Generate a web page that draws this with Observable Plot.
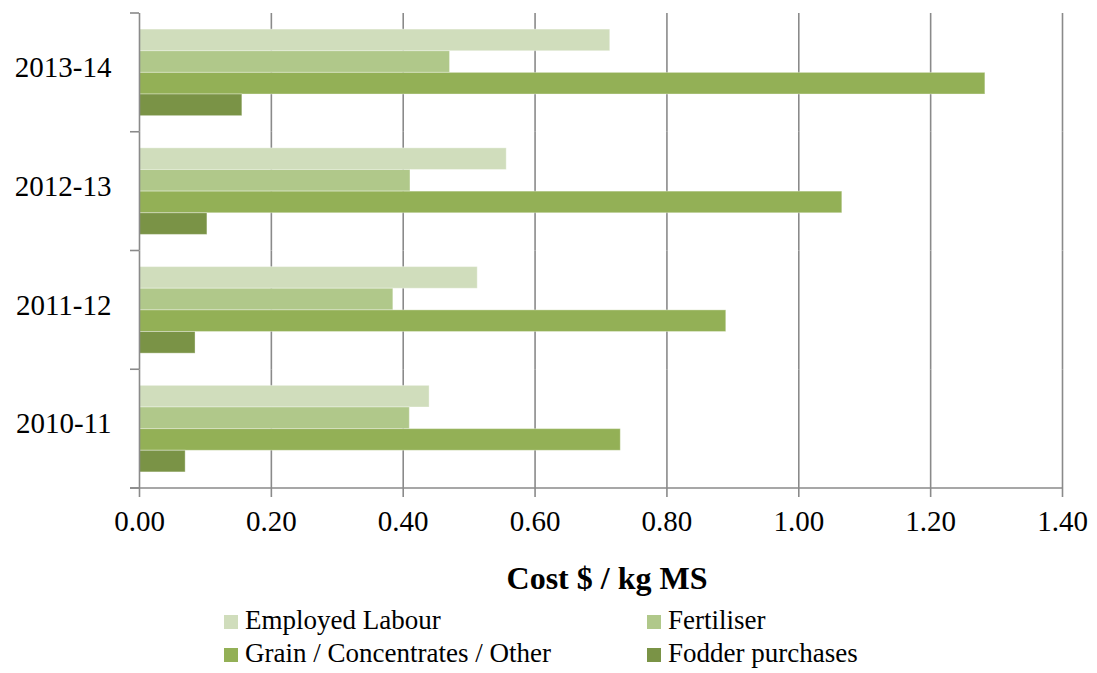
<!DOCTYPE html>
<html>
<head>
<meta charset="utf-8">
<script src="https://cdn.jsdelivr.net/npm/d3@7"></script>
<script src="https://cdn.jsdelivr.net/npm/@observablehq/plot@0.6"></script>
<style>
  html, body { margin: 0; padding: 0; background: #fff; }
  #wrap { position: relative; width: 1097px; height: 673px; font-family: "Liberation Serif", serif; color: #000; }
  #chart { position: absolute; left: 0; top: 0; }
  #title { position: absolute; left: 0; width: 1097px; top: 559px; text-align: center; font-weight: bold; font-size: 32px; line-height: 38px; padding-left: 117px; box-sizing: border-box;}
  .leg { position: absolute; font-size: 27px; line-height: 30px; white-space: nowrap; }
  .sw { position: absolute; width: 14px; height: 14px; }
  [aria-label="x-axis tick"] path { stroke: #8a8a8a; stroke-width: 1.6; }
</style>
</head>
<body>
<div id="wrap">
  <div id="chart"></div>
  <div id="title">Cost $ / kg MS</div>
  <div id="legend"></div>
</div>
<script>
const years = ["2010-11", "2011-12", "2012-13", "2013-14"];
const seriesNames = ["Employed Labour", "Fertiliser", "Grain / Concentrates / Other", "Fodder purchases"];
const labour     = [0.440, 0.513, 0.557, 0.714];
const fertiliser = [0.410, 0.385, 0.411, 0.471];
const grain      = [0.730, 0.890, 1.066, 1.283];
const fodder     = [0.070, 0.085, 0.103, 0.156];
const colors = ["#d0ddbc", "#b0c88a", "#93b056", "#7a9346"];
const xTicks = [0, 0.2, 0.4, 0.6, 0.8, 1.0, 1.2, 1.4];

const seriesValues = [labour, fertiliser, grain, fodder];
const data = [];
years.forEach((yr, i) => {
  seriesNames.forEach((s, j) => {
    data.push({year: yr, series: s, value: seriesValues[j][i]});
  });
});

const W = 1097, H = 548;
const mL = 139, mR = 35, mT = 13, mB = H - 488;

const chart = Plot.plot({
  width: W,
  height: H,
  marginLeft: mL,
  marginRight: mR,
  marginTop: mT,
  marginBottom: mB,
  style: {fontFamily: "Liberation Serif", fontSize: "29px", color: "#000", background: "#fff"},
  x: {domain: [0, 1.4], ticks: xTicks, tickFormat: d3.format(".2f"), tickSize: 9, tickPadding: 13, label: null},
  y: {domain: seriesNames, axis: null, paddingInner: 0, paddingOuter: 0.744, round: false},
  fy: {domain: years.slice().reverse(), padding: 0, round: false, label: null, tickSize: 0, tickPadding: 28, axis: "left"},
  color: {domain: seriesNames, range: colors},
  marks: [
    Plot.ruleX(xTicks.filter(d => d > 0), {stroke: "#8a8a8a", strokeWidth: 1.6}),
    Plot.barX(data, {x: "value", y: "series", fy: "year", fill: "series", stroke: "#ffffff", strokeOpacity: 0.35, strokeWidth: 1}),
    Plot.ruleX([0], {stroke: "#8a8a8a", strokeWidth: 1.6})
  ]
});
document.getElementById("chart").appendChild(chart);

// Excel-style tick marks between categories and the x axis baseline
const svg = d3.select(chart.tagName.toLowerCase() === "svg" ? chart : chart.querySelector("svg"));
const fy = chart.scale("fy");
const xs = chart.scale("x");
const bw = fy.bandwidth;
const edges = years.map(y => fy.apply(y)).concat([fy.apply(years[0]) + bw]);
const g = svg.append("g").attr("stroke", "#8a8a8a").attr("stroke-width", 1.6);
edges.forEach(e => {
  g.append("line").attr("x1", mL - 9).attr("x2", mL).attr("y1", e).attr("y2", e);
});
const y0 = H - mB;
g.append("line").attr("x1", mL - 9).attr("x2", xs.apply(1.4)).attr("y1", y0).attr("y2", y0);
// nudge category labels up to match reference
svg.selectAll('[aria-label="fy-axis tick label"]').each(function() {
  const t = this.getAttribute("transform") || "";
  this.setAttribute("transform", t + " translate(0,-5)");
});

// Legend
const legend = document.getElementById("legend");
const legPos = [
  {sx: 224, sy: 615, tx: 245, ty: 605},
  {sx: 647, sy: 615, tx: 668, ty: 605},
  {sx: 224, sy: 648, tx: 245, ty: 638},
  {sx: 647, sy: 648, tx: 668, ty: 638}
];
seriesNames.forEach((s, i) => {
  const p = legPos[i];
  const sw = document.createElement("div");
  sw.className = "sw";
  sw.style.left = p.sx + "px"; sw.style.top = p.sy + "px"; sw.style.background = colors[i];
  legend.appendChild(sw);
  const t = document.createElement("div");
  t.className = "leg";
  t.style.left = p.tx + "px"; t.style.top = p.ty + "px";
  t.textContent = s;
  legend.appendChild(t);
});
</script>
</body>
</html>
